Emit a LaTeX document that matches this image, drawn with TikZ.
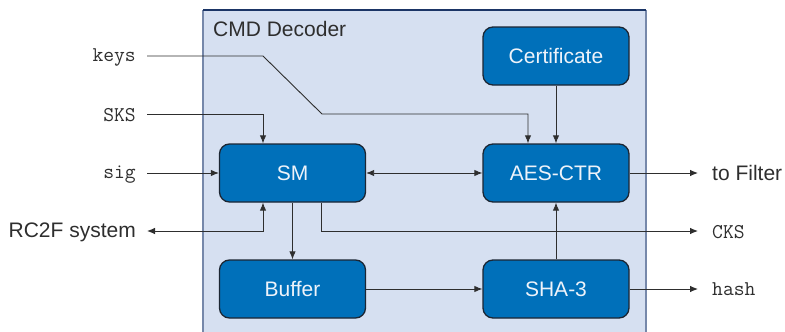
\documentclass[tikz,border=0pt]{standalone}
\usepackage{fontspec}
\setmainfont{Liberation Sans}
\usetikzlibrary{arrows.meta}
\definecolor{boxblue}{HTML}{0070BA}
\definecolor{boxedge}{HTML}{1C2633}
\definecolor{panel}{HTML}{D6E0F1}
\definecolor{panelside}{HTML}{7688AA}
\definecolor{paneltop}{HTML}{1B3566}
\definecolor{ink}{HTML}{2E2E2E}
\definecolor{boxtext}{HTML}{EEF3FA}
\tikzset{
  blk/.style={draw=boxedge, line width=1.3pt, fill=boxblue, rounded corners=10pt,
    minimum width=146pt, minimum height=58pt, inner sep=0pt,
    text=boxtext, font=\fontsize{21}{25}\selectfont},
  arr/.style={draw=ink, line width=0.9pt, -{Latex[length=8pt,width=6.5pt]}},
  arrtwo/.style={draw=ink, line width=0.9pt, {Latex[length=8pt,width=6.5pt]}-{Latex[length=8pt,width=6.5pt]}},
  monolab/.style={inner sep=0pt, text=ink, font=\ttfamily\fontsize{21}{25}\selectfont},
  sanslab/.style={inner sep=0pt, text=ink, font=\fontsize{21}{25}\selectfont},
}
\begin{document}
\begin{tikzpicture}[x=1pt, y=-1pt]
\useasboundingbox (0,0) rectangle (785,332);
% panel
\fill[panel] (203,10) rectangle (646,340);
\draw[panelside, line width=1.4pt] (203,340) -- (203,10);
\draw[panelside, line width=1.4pt] (646,10) -- (646,340);
\draw[paneltop, line width=1.4pt] (203,10) -- (646,10);
\node[sanslab, anchor=base west] (title) at (213,36) {CMD Decoder};

% blocks
\node[blk] (cert) at (556,56) {Certificate};
\node[blk] (aes) at (556,173) {AES-CTR};
\node[blk] (sm) at (292.5,173) {SM};
\node[blk] (buf) at (292.5,289) {Buffer};
\node[blk] (sha) at (556,289) {SHA-3};

% free ends
\coordinate (keysIn) at (147,56);
\coordinate (sksIn) at (147,114);
\coordinate (sigIn) at (147,173);
\coordinate (rcOut) at (147,231);
\coordinate (filterOut) at (698,173);
\coordinate (cksOut) at (698,231);
\coordinate (hashOut) at (698,289);
\coordinate (keysBend) at (263,56);
\coordinate (keysBendB) at (322,114);

% labels
\node[monolab, anchor=base east] (keys) at (136,61.5) {keys};
\node[monolab, anchor=base east] (sks) at (136,121) {SKS};
\node[monolab, anchor=base east] (sig) at (136,178.5) {sig};
\node[sanslab, anchor=base east] (rc) at (136,237.5) {RC2F system};
\node[sanslab, anchor=base west] (filter) at (712,180.5) {to Filter};
\node[monolab, anchor=base west] (cks) at (712,238) {CKS};
\node[monolab, anchor=base west] (hash) at (712,295.5) {hash};

% connectors
\draw[arr] (keysIn) -- (keysBend) -- (keysBendB) -| ([xshift=-28pt]aes.north);
\draw[arr] (sksIn) -| ([xshift=-29.5pt]sm.north);
\draw[arr] (cert) -- (aes);
\draw[arr] (sigIn) -- (sm);
\draw[arrtwo] (sm) -- (aes);
\draw[arr] (aes) -- (filterOut);
\draw[arrtwo] (rcOut) -| ([xshift=-29.5pt]sm.south);
\draw[arr] (sm) -- (buf);
\draw[arr] ([xshift=28.5pt]sm.south) |- (cksOut);
\draw[arr] (sha) -- (aes);
\draw[arr] (buf) -- (sha);
\draw[arr] (sha) -- (hashOut);
\end{tikzpicture}
\end{document}
